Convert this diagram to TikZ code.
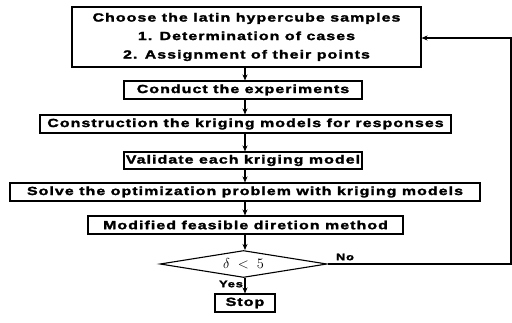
\documentclass[tikz,border=0pt]{standalone}
\usepackage{fontspec}
\usetikzlibrary{shapes.geometric,arrows.meta}
\newfontfamily\fcfont[FakeStretch=1.35,LetterSpace=9,FakeBold=2]{Liberation Sans Bold}
\begin{document}
\begin{tikzpicture}[x=1pt,y=-1pt,
  box/.style={draw,line width=1.1pt,inner sep=0pt,minimum height=18pt,font=\fcfont\fontsize{11.8}{13}\selectfont},
  arr/.style={line width=1.1pt,-{Stealth[length=6pt,width=5pt]}},
  lbl/.style={font=\fcfont\fontsize{9.5}{11}\selectfont,inner sep=0pt}]
\useasboundingbox (0,0) rectangle (512,322);
\node[box,minimum width=349pt,minimum height=60pt,align=center] (top) at (246.5,37)
  {Choose the latin hypercube samples\\[5.5pt]1. Determination of cases\\[5.5pt]2. Assignment of their points};
\node[box,minimum width=238pt] (conduct) at (243,90) {Conduct the experiments};
\node[box,minimum width=411pt] (constr) at (245.5,124) {Construction the kriging models for responses};
\node[box,minimum width=238pt,minimum height=17pt] (valid) at (243,160.5) {Validate each kriging model};
\node[box,minimum width=470pt] (solve) at (245,192) {Solve the optimization problem with kriging models};
\node[box,minimum width=315pt] (modif) at (245.5,225) {Modified feasible diretion method};
\node[draw,line width=1.1pt,diamond,aspect=6.2,minimum width=167pt,minimum height=27pt,inner sep=0pt,font=\fontsize{14}{16}\selectfont] (dia) at (243.5,264) {$\delta \;<\; 5$};
\node[box,minimum width=60pt] (stop) at (245,303) {Stop};
\coordinate (x) at (245,0);
\draw[arr] (top.south -| x) -- (conduct.north -| x);
\draw[arr] (conduct.south -| x) -- (constr.north -| x);
\draw[arr] (constr.south -| x) -- (valid.north -| x);
\draw[arr] (valid.south -| x) -- (solve.north -| x);
\draw[arr] (solve.south -| x) -- (modif.north -| x);
\draw[arr] (modif.south -| x) -- (dia.north -| x);
\draw[arr] (dia.south -| x) -- (stop.north -| x);
\coordinate (fb1) at (511,264);
\coordinate (fb2) at (511,38);
\draw[arr] (dia.east) -- (fb1) -- (fb2) -- (top.east |- fb2);
\node[lbl] (no) at (345,257) {No};
\node[lbl] (yes) at (231,284) {Yes};
\end{tikzpicture}
\end{document}
